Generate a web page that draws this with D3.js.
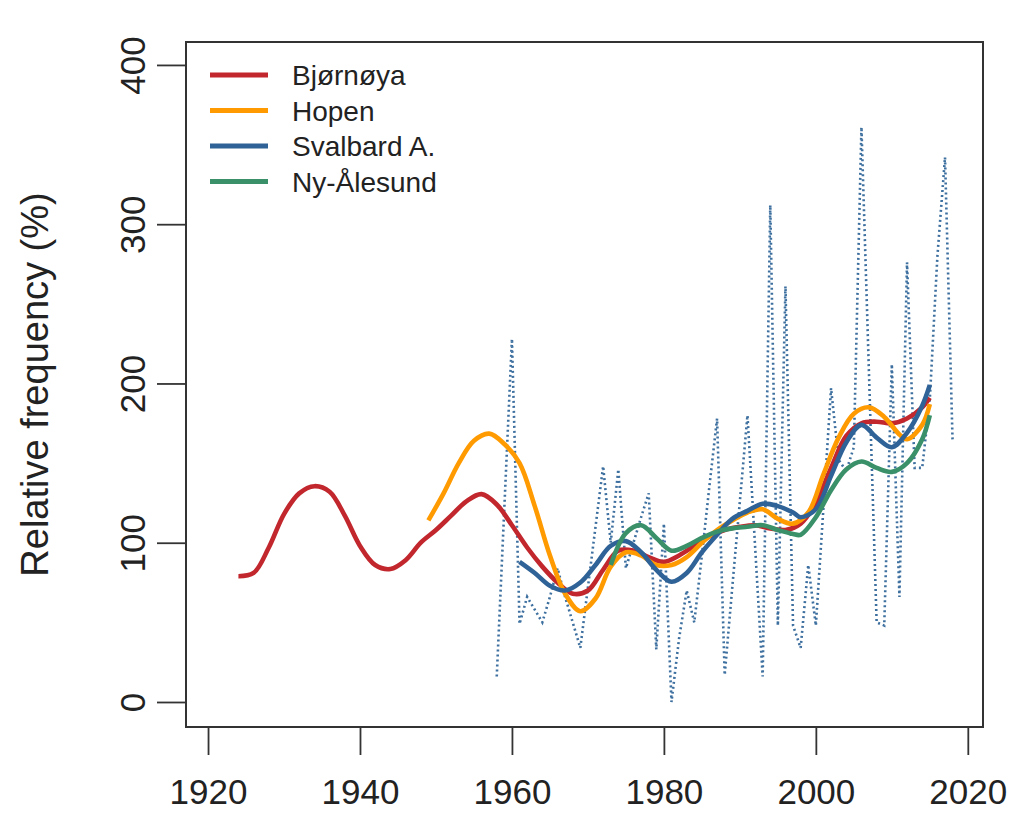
<!DOCTYPE html>
<html>
<head>
<meta charset="utf-8">
<script src="https://cdn.jsdelivr.net/npm/d3@7/dist/d3.min.js"></script>
<style>
  html, body { margin: 0; padding: 0; background: #fff; }
  svg { display: block; font-family: "Liberation Sans", Arial, Helvetica, sans-serif; }
</style>
</head>
<body>
<svg id="chart" width="1024" height="822"></svg>
<script>
// ---------- data ----------
const xTicks = [1920, 1940, 1960, 1980, 2000, 2020];
const yTicks = [0, 100, 200, 300, 400];
const seriesNames = ["Bjørnøya", "Hopen", "Svalbard A.", "Ny-Ålesund"];
const seriesColors = ["#C1272D", "#FF9A00", "#2F6296", "#3A9068"];

const bjornoyaYears = [1924,1926,1928,1930,1932,1934,1936,1938,1940,1942,1944,1946,1948,1950,1952,1954,1956,1958,1960,1962,1964,1966,1968,1970,1972,1974,1976,1978,1980,1982,1984,1986,1988,1990,1992,1994,1996,1998,2000,2002,2004,2006,2008,2010,2012,2014,2015];
const bjornoyaValues = [79,81,97,118,131,135.5,132,117,98,86,83.5,89,100,108,117,126,130.5,124,111,97,85,75,68,70,83,95,95,91,88,92,98,104,108,110,111,109,108,112,125,147,167,175,176,175,178,185,191];

const hopenYears = [1949,1951,1953,1955,1957,1959,1961,1963,1965,1967,1969,1971,1973,1975,1977,1979,1981,1983,1985,1987,1989,1991,1993,1995,1997,1999,2001,2003,2005,2007,2009,2011,2012,2014,2015];
const hopenValues = [114,131,150,164,168.5,162,150,123,92,68,57,65,85,94,92,86,86,91,100,108,114,119,121,115,112,119,143,166,181,185,179,168,165,174,187];

const svalbardYears = [1961,1963,1965,1967,1969,1971,1973,1975,1977,1979,1981,1983,1985,1987,1989,1991,1993,1995,1997,1998,2000,2002,2004,2006,2008,2010,2012,2014,2015];
const svalbardValues = [88,81,73,70,75,86,98,101,94,83,75.5,81,94,105,115,120,124.5,123,119,116,121,142,163,174,166,160,169,186,199];

const nyalesundYears = [1973,1975,1977,1979,1981,1983,1985,1987,1989,1991,1993,1995,1997,1998,2000,2002,2004,2006,2008,2010,2012,2014,2015];
const nyalesundValues = [86,106,111,103,95,98,103,107,109,110,111,108,105.5,105,116,133,146,151,147,144.5,150,165,180];

// annual values (dotted line)
const annualYears = d3.range(1958, 2019);
const annualValues = [16,122,228,49,66,58,50,66,84,66,50,34,72,110,148,100,146,84,100,116,131,33,112,0,40,70,50,92,136,178,17,72,126,180,98,16,312,48,261,48,34,86,48,122,197,152,145,160,361,205,50,48,212,66,276,147,147,190,280,342,163];

// ---------- layout ----------
const svg = d3.select("#chart");
const box = { left: 186, right: 983, top: 42, bottom: 727 };
const x = d3.scaleLinear().domain([1917.1, 2022.0]).range([box.left, box.right]);
const y = d3.scaleLinear().domain([-15.7, 414.4]).range([box.bottom, box.top]);

const textColor = "#222";
const axisColor = "#333";

// annual dotted line
const line = d3.line().x(d => x(d[0])).y(d => y(d[1]));
svg.append("path")
  .datum(annualYears.map((yr, i) => [yr, annualValues[i]]))
  .attr("d", line)
  .attr("fill", "none")
  .attr("stroke", "#3D6F9F")
  .attr("stroke-width", 2.6)
  .attr("stroke-dasharray", "2 3");

// smoothed series
const smooth = d3.line().x(d => x(d[0])).y(d => y(d[1])).curve(d3.curveCatmullRom.alpha(0.5));
const allSeries = [
  [bjornoyaYears, bjornoyaValues],
  [hopenYears, hopenValues],
  [svalbardYears, svalbardValues],
  [nyalesundYears, nyalesundValues]
];
allSeries.forEach((s, k) => {
  svg.append("path")
    .datum(s[0].map((yr, i) => [yr, s[1][i]]))
    .attr("d", smooth)
    .attr("fill", "none")
    .attr("stroke", seriesColors[k])
    .attr("stroke-width", 4.6)
    .attr("stroke-linecap", "butt")
    .attr("stroke-linejoin", "round");
});

// box
svg.append("rect")
  .attr("x", box.left).attr("y", box.top)
  .attr("width", box.right - box.left).attr("height", box.bottom - box.top)
  .attr("fill", "none").attr("stroke", axisColor).attr("stroke-width", 2);

// x axis
const gx = svg.append("g")
  .attr("transform", `translate(0,${box.bottom})`)
  .call(d3.axisBottom(x).tickValues(xTicks).tickFormat(d3.format("d")).tickSize(28).tickPadding(24));
gx.select(".domain").remove();
gx.selectAll(".tick line").attr("stroke", axisColor).attr("stroke-width", 1.8);
gx.selectAll(".tick text")
  .attr("font-size", 35).attr("fill", textColor)
  .attr("font-family", "'Liberation Sans', Arial, sans-serif");

// y axis
const gy = svg.append("g")
  .attr("transform", `translate(${box.left},0)`)
  .call(d3.axisLeft(y).tickValues(yTicks).tickSize(29).tickPadding(0));
gy.select(".domain").remove();
gy.selectAll(".tick line").attr("stroke", axisColor).attr("stroke-width", 1.8);
gy.selectAll(".tick text")
  .attr("font-size", 35).attr("fill", textColor)
  .attr("font-family", "'Liberation Sans', Arial, sans-serif")
  .attr("x", null).attr("dy", null)
  .attr("text-anchor", "middle")
  .attr("transform", "translate(-41,0) rotate(-90)");

// y title
svg.append("text")
  .attr("transform", `translate(48,${(box.top + box.bottom) / 2}) rotate(-90)`)
  .attr("text-anchor", "middle")
  .attr("font-size", 38)
  .attr("fill", textColor)
  .text("Relative frequency (%)");

// legend
const legend = svg.append("g");
seriesNames.forEach((name, i) => {
  const ly = 75 + i * 35.5;
  legend.append("line")
    .attr("x1", 210).attr("x2", 268).attr("y1", ly).attr("y2", ly)
    .attr("stroke", seriesColors[i]).attr("stroke-width", 5);
  legend.append("text")
    .attr("x", 292).attr("y", ly + 10)
    .attr("font-size", 28).attr("fill", textColor)
    .text(name);
});
</script>
</body>
</html>
